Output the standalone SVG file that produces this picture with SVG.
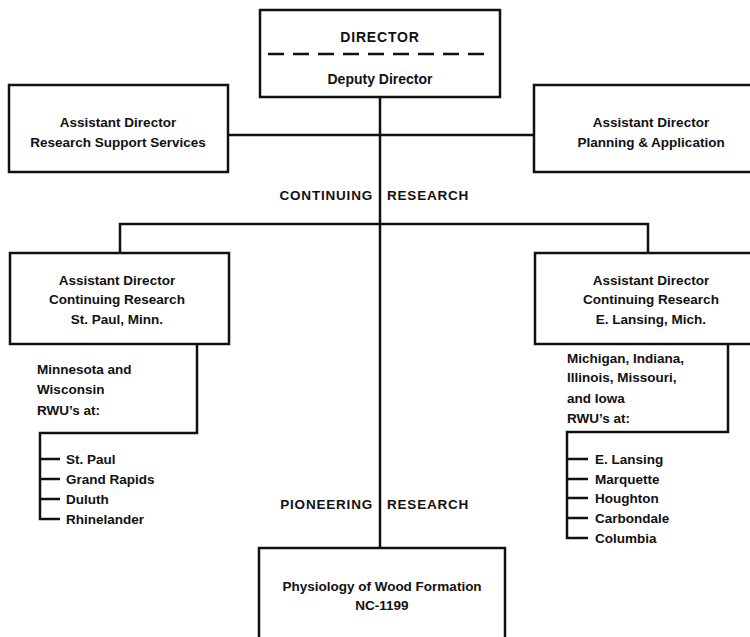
<svg xmlns="http://www.w3.org/2000/svg" width="750" height="637" viewBox="0 0 750 637">
<style>
  .box { fill: #fff; stroke: #111; stroke-width: 2.5; }
  .ln { fill: none; stroke: #111; stroke-width: 2.5; }
  text { font-family: "Liberation Sans", Arial, sans-serif; font-weight: bold; font-size: 13.5px; fill: #111; }
  .c { text-anchor: middle; }
  .cap { letter-spacing: 0.8px; }
</style>
<rect width="750" height="637" fill="#fff"/>
<g id="connectors">
  <path class="ln" d="M380 97 V548"/>
  <path class="ln" d="M228 135 H534"/>
  <path class="ln" d="M120 253 V224 H648 V253"/>
  <path class="ln" d="M197 344 V433 H40 V519 H60"/>
  <path class="ln" d="M40 459 H60 M40 479 H60 M40 499 H60"/>
  <path class="ln" d="M728 344 V432 H567 V538 H588"/>
  <path class="ln" d="M567 459 H588 M567 479 H588 M567 498 H588 M567 518 H588"/>
</g>
<g id="director">
  <rect class="box" x="260" y="10" width="240" height="87"/>
  <text class="c cap" x="380" y="42" style="font-size:14px">DIRECTOR</text>
  <path class="ln" d="M268 54 H490" stroke-dasharray="16 9"/>
  <text class="c" x="380" y="84" style="font-size:14px">Deputy Director</text>
</g>
<g id="ad-support">
  <rect class="box" x="9" y="85" width="219" height="87"/>
  <text class="c" x="118" y="127">Assistant Director</text>
  <text class="c" x="118" y="147">Research Support Services</text>
</g>
<g id="ad-planning">
  <rect class="box" x="534" y="85" width="230" height="87"/>
  <text class="c" x="651" y="127">Assistant Director</text>
  <text class="c" x="651" y="147">Planning &amp; Application</text>
</g>
<g id="label-continuing">
  <text class="cap" x="373" y="200" text-anchor="end">CONTINUING</text>
  <text class="cap" x="387" y="200">RESEARCH</text>
</g>
<g id="ad-stpaul">
  <rect class="box" x="10" y="253" width="219" height="91"/>
  <text class="c" x="117" y="285">Assistant Director</text>
  <text class="c" x="117" y="304">Continuing Research</text>
  <text class="c" x="117" y="324">St. Paul, Minn.</text>
</g>
<g id="ad-lansing">
  <rect class="box" x="535" y="253" width="230" height="91"/>
  <text class="c" x="651" y="285">Assistant Director</text>
  <text class="c" x="651" y="304">Continuing Research</text>
  <text class="c" x="651" y="324">E. Lansing, Mich.</text>
</g>
<g id="rwu-minn">
  <text x="37" y="374">Minnesota and</text>
  <text x="37" y="394">Wisconsin</text>
  <text x="37" y="415">RWU’s at:</text>
  <text x="66" y="464">St. Paul</text>
  <text x="66" y="484">Grand Rapids</text>
  <text x="66" y="504">Duluth</text>
  <text x="66" y="524">Rhinelander</text>
</g>
<g id="rwu-mich">
  <text x="567" y="363">Michigan, Indiana,</text>
  <text x="567" y="382">Illinois, Missouri,</text>
  <text x="567" y="403">and Iowa</text>
  <text x="567" y="423">RWU’s at:</text>
  <text x="595" y="464">E. Lansing</text>
  <text x="595" y="484">Marquette</text>
  <text x="595" y="503">Houghton</text>
  <text x="595" y="523">Carbondale</text>
  <text x="595" y="543">Columbia</text>
</g>
<g id="label-pioneering">
  <text class="cap" x="373" y="509" text-anchor="end">PIONEERING</text>
  <text class="cap" x="387" y="509">RESEARCH</text>
</g>
<g id="physiology">
  <rect class="box" x="259" y="548" width="246" height="100"/>
  <text class="c" x="382" y="591">Physiology of Wood Formation</text>
  <text class="c" x="382" y="610">NC-1199</text>
</g>
</svg>
